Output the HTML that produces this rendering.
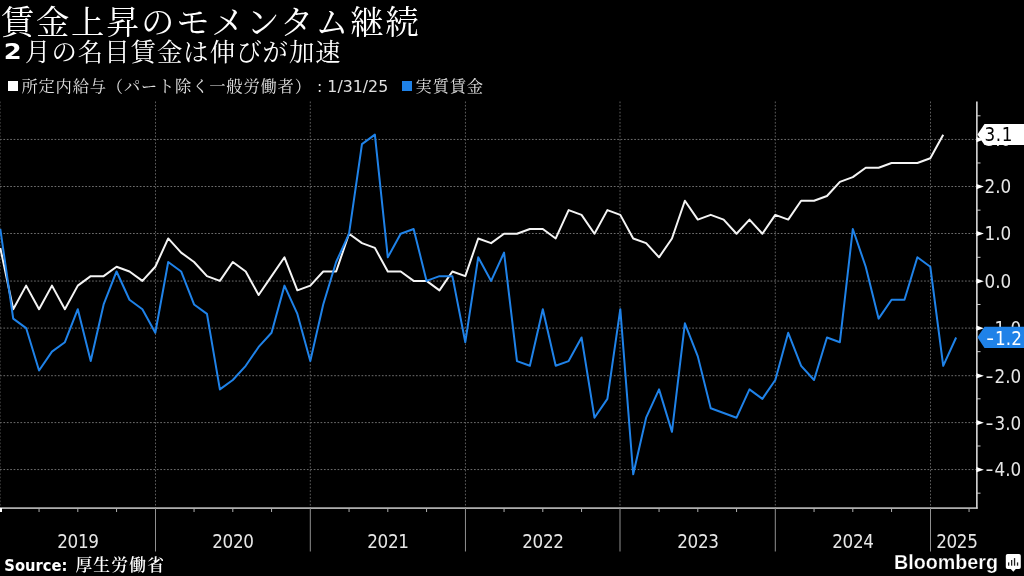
<!DOCTYPE html>
<html lang="ja">
<head>
<meta charset="utf-8">
<title>賃金上昇のモメンタム継続</title>
<style>
html, body { margin: 0; padding: 0; background: #000; }
body { width: 1024px; height: 576px; overflow: hidden; position: relative; }
svg { position: absolute; left: 0; top: 0; display: block; }
text { font-family: "DejaVu Sans Condensed", "Liberation Sans", "Noto Serif CJK SC", serif; fill: #e6e6e6; }
.cjk { font-family: "Liberation Serif", "Noto Serif CJK SC", serif; }
.title { font-size: 33.4px; letter-spacing: 1.69px; fill: #fff; }
.sub { font-size: 25.4px; fill: #fff; }
.subc { letter-spacing: 1.0px; }
.leg { font-size: 16.3px; fill: #e0e0e0; }
.legc { letter-spacing: 0.8px; }
.lat { font-family: "DejaVu Sans", "Liberation Sans", sans-serif; }
.ax { font-size: 18.67px; fill: #e6e6e6; }
.b { font-weight: bold; }
.yr { letter-spacing: -0.35px; }
</style>
</head>
<body>
<svg width="1024" height="576" viewBox="0 0 1024 576">
<rect x="0" y="0" width="1024" height="576" fill="#000"/>
<text class="title cjk" x="0.8" y="34">賃金上昇のモメンタム継続</text>
<text class="lat b" x="3.8" y="59" style="font-size:21.6px;fill:#fff" textLength="17.9" lengthAdjust="spacingAndGlyphs">2</text>
<text class="sub cjk subc" x="25" y="60.9">月の名目賃金は伸びが加速</text>
<rect x="8" y="81" width="10" height="10" fill="#fff"/>
<text class="leg cjk legc" x="21.4" y="92">所定内給与（パート除く一般労働者）</text>
<text class="lat" x="317" y="92" style="font-size:15.2px;fill:#e0e0e0" textLength="71.2" lengthAdjust="spacingAndGlyphs">: 1/31/25</text>
<rect x="402" y="81" width="10" height="10" fill="#1f82e8"/>
<text class="leg cjk legc" x="415.6" y="92">実質賃金</text>
<g stroke="#6e6e6e" stroke-width="1" stroke-dasharray="1.7 1.71" fill="none">
<line x1="0" y1="469.55" x2="976" y2="469.55"/>
<line x1="0" y1="422.60" x2="976" y2="422.60"/>
<line x1="0" y1="375.70" x2="976" y2="375.70"/>
<line x1="0" y1="328.10" x2="976" y2="328.10"/>
<line x1="0" y1="281.05" x2="976" y2="281.05"/>
<line x1="0" y1="233.50" x2="976" y2="233.50"/>
<line x1="0" y1="186.50" x2="976" y2="186.50"/>
<line x1="0" y1="139.45" x2="976" y2="139.45"/>
<line x1="0.00" y1="101.5" x2="0.00" y2="508.0" stroke="#5c5c5c"/>
<line x1="155.50" y1="101.5" x2="155.50" y2="508.0" stroke="#5c5c5c"/>
<line x1="310.30" y1="101.5" x2="310.30" y2="508.0" stroke="#5c5c5c"/>
<line x1="465.45" y1="101.5" x2="465.45" y2="508.0" stroke="#5c5c5c"/>
<line x1="620.00" y1="101.5" x2="620.00" y2="508.0" stroke="#5c5c5c"/>
<line x1="775.30" y1="101.5" x2="775.30" y2="508.0" stroke="#5c5c5c"/>
<line x1="930.50" y1="101.5" x2="930.50" y2="508.0" stroke="#5c5c5c"/>
</g>
<polyline points="0.30,247.88 13.22,309.20 26.13,285.62 39.05,309.20 51.97,285.62 64.88,309.20 77.80,285.62 90.72,276.18 103.63,276.18 116.55,266.75 129.47,271.47 142.38,280.90 155.30,266.75 168.22,238.45 181.13,252.60 194.05,262.03 206.97,276.18 219.88,280.90 232.80,262.03 245.72,271.47 258.63,295.05 271.55,276.18 284.47,257.31 297.38,290.33 310.30,285.62 323.22,271.47 336.13,271.47 349.05,233.73 361.97,243.16 374.88,247.88 387.80,271.47 400.72,271.47 413.63,280.90 426.55,280.90 439.47,290.33 452.38,271.47 465.30,276.18 478.22,238.45 491.13,243.16 504.05,233.73 516.97,233.73 529.88,229.01 542.80,229.01 555.72,238.45 568.63,210.14 581.55,214.86 594.47,233.73 607.38,210.14 620.30,214.86 633.22,238.45 646.13,243.16 659.05,257.31 671.97,238.45 684.88,200.71 697.80,219.58 710.72,214.86 723.63,219.58 736.55,233.73 749.47,219.58 762.38,233.73 775.30,214.86 788.22,219.58 801.13,200.71 814.05,200.71 826.97,195.99 839.88,181.84 852.80,177.13 865.72,167.69 878.63,167.69 891.55,162.97 904.47,162.97 917.38,162.97 930.30,158.26 943.22,134.67" fill="none" stroke="#f4f4f4" stroke-width="2" stroke-linejoin="round"/>
<polyline points="0.30,229.01 13.22,318.64 26.13,328.07 39.05,370.52 51.97,351.65 64.88,342.22 77.80,309.20 90.72,361.09 103.63,304.48 116.55,271.47 129.47,299.77 142.38,309.20 155.30,332.79 168.22,262.03 181.13,271.47 194.05,304.48 206.97,313.92 219.88,389.39 232.80,379.96 245.72,365.81 258.63,346.94 271.55,332.79 284.47,285.62 297.38,313.92 310.30,361.09 323.22,304.48 336.13,262.03 349.05,233.73 361.97,144.11 374.88,134.67 387.80,257.31 400.72,233.73 413.63,229.01 426.55,280.90 439.47,276.18 452.38,276.18 465.30,342.22 478.22,257.31 491.13,280.90 504.05,252.60 516.97,361.09 529.88,365.81 542.80,309.20 555.72,365.81 568.63,361.09 581.55,337.50 594.47,417.69 607.38,398.82 620.30,309.20 633.22,474.30 646.13,417.69 659.05,389.39 671.97,431.84 684.88,323.35 697.80,356.37 710.72,408.26 723.63,412.98 736.55,417.69 749.47,389.39 762.38,398.82 775.30,379.96 788.22,332.79 801.13,365.81 814.05,379.96 826.97,337.50 839.88,342.22 852.80,229.01 865.72,266.75 878.63,318.64 891.55,299.77 904.47,299.77 917.38,257.31 930.30,266.75 943.22,365.81 956.13,337.50" fill="none" stroke="#1f82e8" stroke-width="2" stroke-linejoin="round"/>
<g fill="#cccccc">
<rect x="0" y="507.35" width="977.7" height="1.5"/>
<rect x="976" y="101.5" width="1.7" height="407.1"/>
<rect x="0" y="508" width="2" height="4" fill="#fff"/>
<rect x="38.55" y="508" width="1" height="4" fill="#b0b0b0"/>
<rect x="77.30" y="508" width="1" height="4" fill="#b0b0b0"/>
<rect x="116.05" y="508" width="1" height="4" fill="#b0b0b0"/>
<rect x="155.00" y="508" width="1" height="43.5" fill="#909090"/>
<rect x="193.55" y="508" width="1" height="4" fill="#b0b0b0"/>
<rect x="232.30" y="508" width="1" height="4" fill="#b0b0b0"/>
<rect x="271.05" y="508" width="1" height="4" fill="#b0b0b0"/>
<rect x="309.80" y="508" width="1" height="43.5" fill="#909090"/>
<rect x="348.55" y="508" width="1" height="4" fill="#b0b0b0"/>
<rect x="387.30" y="508" width="1" height="4" fill="#b0b0b0"/>
<rect x="426.05" y="508" width="1" height="4" fill="#b0b0b0"/>
<rect x="464.95" y="508" width="1" height="43.5" fill="#909090"/>
<rect x="503.55" y="508" width="1" height="4" fill="#b0b0b0"/>
<rect x="542.30" y="508" width="1" height="4" fill="#b0b0b0"/>
<rect x="581.05" y="508" width="1" height="4" fill="#b0b0b0"/>
<rect x="619.50" y="508" width="1" height="43.5" fill="#909090"/>
<rect x="658.55" y="508" width="1" height="4" fill="#b0b0b0"/>
<rect x="697.30" y="508" width="1" height="4" fill="#b0b0b0"/>
<rect x="736.05" y="508" width="1" height="4" fill="#b0b0b0"/>
<rect x="774.80" y="508" width="1" height="43.5" fill="#909090"/>
<rect x="813.55" y="508" width="1" height="4" fill="#b0b0b0"/>
<rect x="852.30" y="508" width="1" height="4" fill="#b0b0b0"/>
<rect x="891.05" y="508" width="1" height="4" fill="#b0b0b0"/>
<rect x="930.00" y="508" width="1" height="43.5" fill="#909090"/>
<rect x="968.55" y="508" width="1" height="4" fill="#b0b0b0"/>
<rect x="977" y="492.66" width="3.5" height="1"/>
<path d="M976.5,467.05 L983.9,469.65 L976.5,472.25 Z" fill="#fff"/>
<rect x="977" y="445.50" width="3.5" height="1"/>
<path d="M976.5,420.10 L983.9,422.70 L976.5,425.30 Z" fill="#fff"/>
<rect x="977" y="398.32" width="3.5" height="1"/>
<path d="M976.5,373.20 L983.9,375.80 L976.5,378.40 Z" fill="#fff"/>
<rect x="977" y="351.15" width="3.5" height="1"/>
<path d="M976.5,325.60 L983.9,328.20 L976.5,330.80 Z" fill="#fff"/>
<rect x="977" y="303.98" width="3.5" height="1"/>
<path d="M976.5,278.55 L983.9,281.15 L976.5,283.75 Z" fill="#fff"/>
<rect x="977" y="256.81" width="3.5" height="1"/>
<path d="M976.5,231.00 L983.9,233.60 L976.5,236.20 Z" fill="#fff"/>
<rect x="977" y="209.64" width="3.5" height="1"/>
<path d="M976.5,184.00 L983.9,186.60 L976.5,189.20 Z" fill="#fff"/>
<rect x="977" y="162.47" width="3.5" height="1"/>
<path d="M976.5,136.95 L983.9,139.55 L976.5,142.15 Z" fill="#fff"/>
<rect x="977" y="115.30" width="3.5" height="1"/>
</g>
<text class="ax" x="984.6" y="146.35">3.0</text>
<text class="ax" x="984.6" y="193.40">2.0</text>
<text class="ax" x="984.6" y="240.40">1.0</text>
<text class="ax" x="984.6" y="287.95">0.0</text>
<text class="ax" x="985.6" y="335.00"><tspan textLength="8.0" lengthAdjust="spacingAndGlyphs">-</tspan><tspan x="994.5">1.0</tspan></text>
<text class="ax" x="985.6" y="382.60"><tspan textLength="8.0" lengthAdjust="spacingAndGlyphs">-</tspan><tspan x="994.5">2.0</tspan></text>
<text class="ax" x="985.6" y="429.50"><tspan textLength="8.0" lengthAdjust="spacingAndGlyphs">-</tspan><tspan x="994.5">3.0</tspan></text>
<text class="ax" x="985.6" y="476.45"><tspan textLength="8.0" lengthAdjust="spacingAndGlyphs">-</tspan><tspan x="994.5">4.0</tspan></text>
<text class="ax yr" x="77.9" y="548" text-anchor="middle">2019</text>
<text class="ax yr" x="232.9" y="548" text-anchor="middle">2020</text>
<text class="ax yr" x="387.9" y="548" text-anchor="middle">2021</text>
<text class="ax yr" x="542.9" y="548" text-anchor="middle">2022</text>
<text class="ax yr" x="697.9" y="548" text-anchor="middle">2023</text>
<text class="ax yr" x="852.9" y="548" text-anchor="middle">2024</text>
<text class="ax yr" x="936.2" y="548">2025</text>
<path d="M977.4,134.52 L984.5,123.92 L1024,123.92 L1024,145.12 L984.5,145.12 Z" fill="#fff"/>
<text class="ax" x="984.6" y="141.47" style="fill:#000;letter-spacing:0.6px">3.1</text>
<path d="M977.4,337.35 L984.5,326.75 L1024,326.75 L1024,347.95 L984.5,347.95 Z" fill="#1f82e8"/>
<text class="ax" x="986.2" y="344.85" style="fill:#fff;letter-spacing:0.1px"><tspan textLength="8.0" lengthAdjust="spacingAndGlyphs">-</tspan><tspan x="995.1">1.2</tspan></text>
<text class="b" x="4.3" y="570.6" style="font-size:15.8px;fill:#fff" textLength="63.2" lengthAdjust="spacingAndGlyphs">Source:</text>
<text class="cjk" x="75.4" y="571.4" style="font-size:16.8px;letter-spacing:1.2px;font-weight:600;fill:#fff">厚生労働省</text>
<text x="894" y="569" style="font-family:'Liberation Sans',sans-serif;font-weight:bold;font-size:20.5px;fill:#fff;stroke:#000;stroke-width:0.25px" textLength="104" lengthAdjust="spacingAndGlyphs">Bloomberg</text>
<g>
<path d="M1007.6,554 h11.4 a1.8,1.8 0 0 1 1.8,1.8 v11.4 a1.8,1.8 0 0 1 -1.8,1.8 h-3.2 l-2.5,2.7 l-2.5,-2.7 h-3.2 a1.8,1.8 0 0 1 -1.8,-1.8 v-11.4 a1.8,1.8 0 0 1 1.8,-1.8 z" fill="#fff"/>
<rect x="1008.0" y="562.4" width="1.3" height="3.3" fill="#222"/><rect x="1011.0" y="560" width="1.3" height="5.7" fill="#222"/><rect x="1013.9" y="558.1" width="1.3" height="7.6" fill="#222"/><rect x="1016.9" y="562.4" width="1.3" height="3.3" fill="#222"/>
</g>
</svg>
</body>
</html>
